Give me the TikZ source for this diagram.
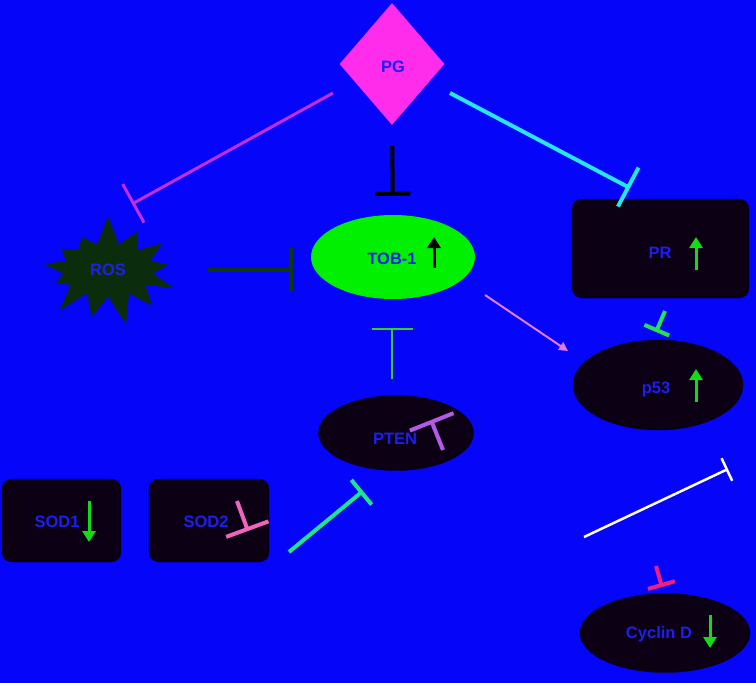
\documentclass[tikz,border=0pt]{standalone}
\usepackage{fontspec}
\setmainfont{Liberation Sans}
\usetikzlibrary{shapes.geometric,shapes.symbols,arrows.meta}
\definecolor{bgblue}{RGB}{5,5,250}
\definecolor{nodedark}{RGB}{12,0,20}
\definecolor{txtblue}{RGB}{30,30,238}
\definecolor{pgmag}{RGB}{255,45,235}
\definecolor{rosgreen}{RGB}{12,45,12}
\definecolor{tobgreen}{RGB}{0,240,0}
\definecolor{upgreen}{RGB}{20,220,20}
\definecolor{cPurple}{RGB}{195,45,230}
\definecolor{cCyan}{RGB}{40,230,230}
\definecolor{cDark}{RGB}{15,55,15}
\definecolor{cThinGreen}{RGB}{60,205,40}
\definecolor{cPink}{RGB}{230,120,230}
\definecolor{cPRgreen}{RGB}{40,225,80}
\definecolor{cPTEN}{RGB}{180,90,230}
\definecolor{cSOD}{RGB}{240,100,190}
\definecolor{cSpring}{RGB}{30,230,140}
\definecolor{cRed}{RGB}{240,30,130}
\tikzset{
  lbl/.style={font=\fontsize{16.5}{18}\selectfont\bfseries, text=txtblue, inner sep=0pt},
  darkell/.style={ellipse, fill=nodedark, draw=nodedark, inner sep=0pt},
  darkbox/.style={rounded corners=10pt, fill=nodedark, draw=nodedark, inner sep=0pt},
  inh/.style 2 args={line width=#1, -{Bar[width=#2]}},
  uparr/.style={line width=3pt, -{Triangle[length=11pt,width=13pt]}},
}
\begin{document}
\begin{tikzpicture}[x=1pt,y=-1pt]
\fill[bgblue] (0,0) rectangle (756,683);
\useasboundingbox (0,0) rectangle (756,683);

% nodes
\node[diamond, fill=pgmag, minimum width=105pt, minimum height=122pt, inner sep=0pt] (PG) at (392,64) {};
\node[lbl] (PGt) at (393,67) {PG};

\node[starburst, starburst points=13, starburst point height=30pt, random starburst=7,
      fill=rosgreen, draw=rosgreen, minimum width=150pt, minimum height=112pt, inner sep=0pt] (ROS) at (108,270) {};
\node[lbl] (ROSt) at (108,270) {ROS};

\node[ellipse, fill=tobgreen, minimum width=164pt, minimum height=84pt, inner sep=0pt] (TOB) at (393,257) {};
\node[lbl] (TOBt) at (392,259) {TOB-1};

\node[darkbox, minimum width=177pt, minimum height=99pt] (PR) at (660.5,248.5) {};
\node[lbl] (PRt) at (660,253) {PR};

\node[darkell, minimum width=170pt, minimum height=90pt] (P53) at (658,385) {};
\node[lbl] (P53t) at (656,389) {p53};

\node[darkell, minimum width=155pt, minimum height=75pt] (PTEN) at (396,433) {};
\node[lbl] (PTENt) at (395,439) {PTEN};

\node[darkbox, minimum width=119pt, minimum height=83pt] (SOD1) at (61.5,520.5) {};
\node[lbl] (SOD1t) at (57,522) {SOD1};

\node[darkbox, minimum width=120pt, minimum height=83pt] (SOD2) at (209,520.5) {};
\node[lbl] (SOD2t) at (206,522) {SOD2};

\node[darkell, minimum width=170pt, minimum height=79pt] (CYC) at (665,633) {};
\node[lbl] (CYCt) at (659,634) {Cyclin D};

% small up/down arrows in nodes
\coordinate (a1s) at (434,268); \coordinate (a1e) at (434,237);
\draw[uparr, black] (a1s) -- (a1e);
\coordinate (a2s) at (696,270); \coordinate (a2e) at (696,237);
\draw[uparr, upgreen] (a2s) -- (a2e);
\coordinate (a3s) at (696,402); \coordinate (a3e) at (696,369);
\draw[uparr, upgreen] (a3s) -- (a3e);
\coordinate (a4s) at (89,501); \coordinate (a4e) at (89,542);
\draw[uparr, upgreen] (a4s) -- (a4e);
\coordinate (a5s) at (710,615); \coordinate (a5e) at (710,648);
\draw[uparr, upgreen] (a5s) -- (a5e);

% connectors
\coordinate (c1s) at (333,93); \coordinate (c1e) at (132,204);
\draw[inh={3pt}{44pt}, cPurple] (c1s) -- (c1e);

\coordinate (c2s) at (450,93); \coordinate (c2e) at (630,188);
\draw[inh={4pt}{44pt}, cCyan] (c2s) -- (c2e);

\coordinate (c3s) at (208,270); \coordinate (c3e) at (293,270);
\draw[inh={4pt}{44pt}, cDark] (c3s) -- (c3e);

\draw[inh={4pt}{35pt}, black, shorten <=21pt, shorten >=19pt] (PG.south) -- (TOB.north);

\coordinate (c5s) at (392,379); \coordinate (c5e) at (392,328);
\draw[inh={2pt}{41pt}, cThinGreen] (c5s) -- (c5e);

\coordinate (c6s) at (485,295); \coordinate (c6e) at (568,351);
\draw[line width=2pt, cPink, -{Triangle[length=9pt,width=9pt]}] (c6s) -- (c6e);

\coordinate (c7s) at (665,311); \coordinate (c7e) at (656,332);
\draw[inh={4pt}{27pt}, cPRgreen] (c7s) -- (c7e);

\coordinate (c8s) at (443,450); \coordinate (c8e) at (431,420);
\draw[inh={4pt}{47pt}, cPTEN] (c8s) -- (c8e);

\coordinate (c9s) at (237,501); \coordinate (c9e) at (248,531);
\draw[inh={4pt}{45pt}, cSOD] (c9s) -- (c9e);

\coordinate (c10s) at (289,552); \coordinate (c10e) at (363,491);
\draw[inh={4pt}{32pt}, cSpring] (c10s) -- (c10e);

\coordinate (c11s) at (584,537); \coordinate (c11e) at (728,469);
\draw[inh={2.5pt}{25pt}, white] (c11s) -- (c11e);

\coordinate (c12s) at (656,566); \coordinate (c12e) at (662,587);
\draw[inh={4pt}{28pt}, cRed] (c12s) -- (c12e);
\end{tikzpicture}
\end{document}
